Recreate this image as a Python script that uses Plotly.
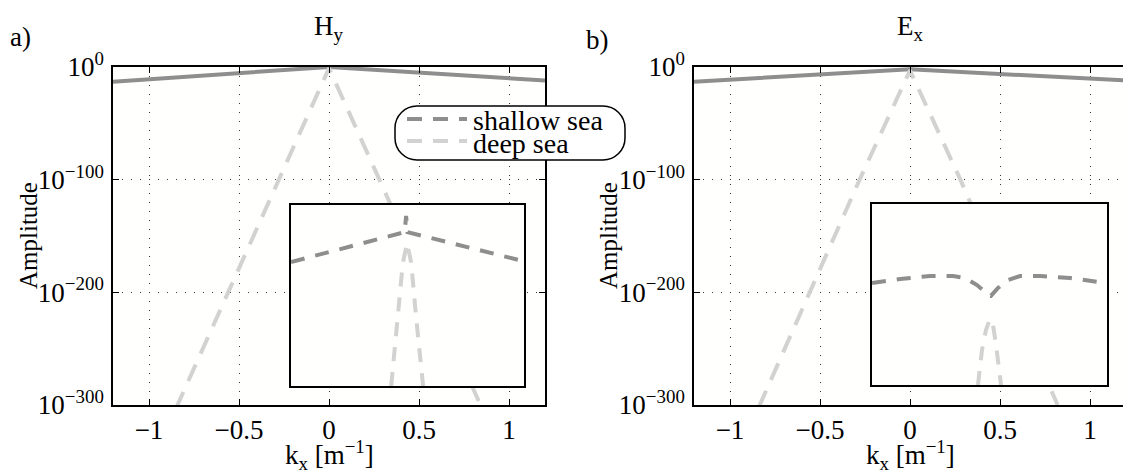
import plotly.graph_objects as go

W, H = 1123, 474
FONT = "Liberation Serif"

# ---------------- data ----------------
series_names = ["shallow sea", "deep sea"]
panel_titles = ["H<sub>y</sub>", "E<sub>x</sub>"]
panel_letters = ["a)", "b)"]

x_tickvals = [-1, -0.5, 0, 0.5, 1]
x_ticktext = ["\u22121", "\u22120.5", "0", "0.5", "1"]
y_tickvals = [1e-300, 1e-200, 1e-100, 1]
y_ticktext = ["10<sup>\u2212300</sup>", "10<sup>\u2212200</sup>", "10<sup>\u2212100</sup>", "10<sup>0</sup>"]

# main panels (kx in 1/m, amplitude)
kx_shallow_a = [-1.2, 0.0, 1.2]
amp_shallow_a = [1e-13, 1e0, 1e-12]
kx_deep_a = [-0.85, -0.28, 0.0, 0.28, 0.85]
amp_deep_a = [1e-303, 1e-100, 1e-1, 1e-100, 1e-303]

kx_shallow_b = [-1.2, 0.0, 1.2]
amp_shallow_b = [1e-13, 1e-2, 1e-12]
kx_deep_b = [-0.84, -0.28, 0.0, 0.28, 0.82]
amp_deep_b = [1e-302, 1e-100, 1e-3, 1e-100, 1e-300]

# insets (normalised zoom coordinates)
inset_a_x_shallow = [0.0, 0.488, 0.494, 0.500, 1.0]
inset_a_y_shallow = [0.685, 0.85, 0.94, 0.85, 0.689]
inset_a_x_deep = [0.43, 0.445, 0.459, 0.48, 0.498, 0.516, 0.537, 0.552, 0.567]
inset_a_y_deep = [0.0, 0.2, 0.38, 0.68, 0.79, 0.68, 0.38, 0.2, 0.0]

inset_b_x_shallow = [0.0, 0.12, 0.247, 0.345, 0.396, 0.447, 0.481, 0.494, 0.506,
                     0.519, 0.536, 0.579, 0.630, 0.715, 0.843, 1.0]
inset_b_y_shallow = [0.564, 0.586, 0.602, 0.602, 0.591, 0.552, 0.514, 0.492, 0.492,
                     0.514, 0.536, 0.580, 0.602, 0.602, 0.591, 0.562]
inset_b_x_deep = [0.451, 0.468, 0.485, 0.502, 0.515, 0.528, 0.549]
inset_b_y_deep = [0.0, 0.193, 0.304, 0.365, 0.331, 0.221, 0.0]

# ---------------- styling helpers ----------------
C_SHALLOW = "#8e8e8e"
C_DEEP = "#d2d2d2"
DASH_DEEP = "18px,12px"
DASH_SH = "14px,11px"
LW = 4
FS = 27


def PX(x):
    return x / W


def PY(y):
    return 1 - y / H


fig = go.Figure()

fig.add_trace(go.Scatter(x=kx_shallow_a, y=amp_shallow_a, mode="lines", name=series_names[0],
                         line=dict(color=C_SHALLOW, width=LW), showlegend=False, xaxis="x", yaxis="y"))
fig.add_trace(go.Scatter(x=kx_deep_a, y=amp_deep_a, mode="lines", name=series_names[1],
                         line=dict(color=C_DEEP, width=LW, dash=DASH_DEEP), showlegend=False,
                         xaxis="x", yaxis="y"))
fig.add_trace(go.Scatter(x=kx_shallow_b, y=amp_shallow_b, mode="lines", name=series_names[0],
                         line=dict(color=C_SHALLOW, width=LW), showlegend=False, xaxis="x2", yaxis="y2"))
fig.add_trace(go.Scatter(x=kx_deep_b, y=amp_deep_b, mode="lines", name=series_names[1],
                         line=dict(color=C_DEEP, width=LW, dash=DASH_DEEP), showlegend=False,
                         xaxis="x2", yaxis="y2"))
fig.add_trace(go.Scatter(x=inset_a_x_deep, y=inset_a_y_deep, mode="lines", name=series_names[1],
                         line=dict(color=C_DEEP, width=LW, dash=DASH_SH), showlegend=False,
                         xaxis="x3", yaxis="y3"))
fig.add_trace(go.Scatter(x=inset_a_x_shallow, y=inset_a_y_shallow, mode="lines", name=series_names[0],
                         line=dict(color=C_SHALLOW, width=LW, dash=DASH_SH), showlegend=False,
                         xaxis="x3", yaxis="y3"))
fig.add_trace(go.Scatter(x=inset_b_x_deep, y=inset_b_y_deep, mode="lines", name=series_names[1],
                         line=dict(color=C_DEEP, width=LW, dash=DASH_SH), showlegend=False,
                         xaxis="x4", yaxis="y4"))
fig.add_trace(go.Scatter(x=inset_b_x_shallow, y=inset_b_y_shallow, mode="lines", name=series_names[0],
                         line=dict(color=C_SHALLOW, width=LW, dash=DASH_SH), showlegend=False,
                         xaxis="x4", yaxis="y4"))

tickfont = dict(family=FONT, size=FS, color="black")
grid = dict(showgrid=True, gridcolor="#333333", gridwidth=1, griddash="1px,8px")
common_x = dict(range=[-1.2, 1.2], tickmode="array", tickvals=x_tickvals, ticktext=x_ticktext,
                ticks="inside", ticklen=6, tickwidth=1, tickcolor="black", showline=True,
                linecolor="black", linewidth=1.5, zeroline=False, tickfont=tickfont,
                fixedrange=True, **grid)
common_y = dict(type="log", range=[-300, 0], tickmode="array", tickvals=y_tickvals, ticktext=y_ticktext,
                ticks="inside", ticklen=6, tickwidth=1, tickcolor="black", showline=True,
                linecolor="black", linewidth=1.5, zeroline=False, tickfont=tickfont,
                fixedrange=True, ticklabelstandoff=2, **grid)
inset_ax = dict(range=[0, 1], showline=True, mirror=True, linecolor="black", linewidth=1.5,
                showgrid=False, zeroline=False, showticklabels=False, ticks="", fixedrange=True)

ydom = [PY(405), PY(67)]
fig.update_layout(
    width=W, height=H,
    margin=dict(l=0, r=0, t=0, b=0, autoexpand=False),
    paper_bgcolor="white", plot_bgcolor="#fffffe",
    showlegend=False,
    font=dict(family=FONT, size=FS, color="black"),
    xaxis=dict(domain=[PX(113), PX(545)], mirror="ticks", anchor="y", **common_x),
    yaxis=dict(domain=ydom, mirror="ticks", anchor="x", **common_y),
    xaxis2=dict(domain=[PX(694), 1.0], mirror="ticks", anchor="y2", **{**common_x, "range": [-1.2, (1123 - 910) / 180]}),
    yaxis2=dict(domain=ydom, mirror=False, anchor="x2", **common_y),
    xaxis3=dict(domain=[PX(291), PX(524)], anchor="y3", **inset_ax),
    yaxis3=dict(domain=[PY(386), PY(205)], anchor="x3", **inset_ax),
    xaxis4=dict(domain=[PX(872), PX(1107)], anchor="y4", **inset_ax),
    yaxis4=dict(domain=[PY(385), PY(204)], anchor="x4", **inset_ax),
)


def rounded_rect(x0, y0, x1, y1, r):
    k = 0.5523 * r
    pts = [
        f"M {PX(x0 + r)},{PY(y0)}",
        f"L {PX(x1 - r)},{PY(y0)}",
        f"C {PX(x1 - r + k)},{PY(y0)} {PX(x1)},{PY(y0 + r - k)} {PX(x1)},{PY(y0 + r)}",
        f"L {PX(x1)},{PY(y1 - r)}",
        f"C {PX(x1)},{PY(y1 - r + k)} {PX(x1 - r + k)},{PY(y1)} {PX(x1 - r)},{PY(y1)}",
        f"L {PX(x0 + r)},{PY(y1)}",
        f"C {PX(x0 + r - k)},{PY(y1)} {PX(x0)},{PY(y1 - r + k)} {PX(x0)},{PY(y1 - r)}",
        f"L {PX(x0)},{PY(y0 + r)}",
        f"C {PX(x0)},{PY(y0 + r - k)} {PX(x0 + r - k)},{PY(y0)} {PX(x0 + r)},{PY(y0)}",
        "Z",
    ]
    return " ".join(pts)


shapes = [
    dict(type="path", xref="paper", yref="paper", path=rounded_rect(395, 106, 625, 160, 22),
         line=dict(color="black", width=1.5), fillcolor="white", layer="above"),
    dict(type="line", xref="paper", yref="paper", x0=PX(407), x1=PX(467), y0=PY(119), y1=PY(119),
         line=dict(color=C_SHALLOW, width=LW, dash="15px,11px"), layer="above"),
    dict(type="line", xref="paper", yref="paper", x0=PX(407), x1=PX(467), y0=PY(141), y1=PY(141),
         line=dict(color=C_DEEP, width=LW, dash="15px,11px"), layer="above"),
]
fig.update_layout(shapes=shapes)

ann = []


def A(text, x, y, size=FS, angle=0, xanchor="center"):
    ann.append(dict(text=text, x=PX(x), y=PY(y), xref="paper", yref="paper", showarrow=False,
                    xanchor=xanchor, yanchor="middle", textangle=angle,
                    font=dict(family=FONT, size=size, color="black")))


A(panel_letters[0], 20, 37)
A(panel_letters[1], 597, 40)
A(panel_titles[0], 329, 28)
A(panel_titles[1], 910, 28)
A("Amplitude", 28, 236, size=25, angle=-90)
A("Amplitude", 608, 236, size=25, angle=-90)
A("k<sub>x</sub> [m<sup>\u22121</sup>]", 329, 455)
A("k<sub>x</sub> [m<sup>\u22121</sup>]", 910, 455)
A(series_names[0], 471, 120, size=28, xanchor="left")
A(series_names[1], 471, 143, size=28, xanchor="left")
fig.update_layout(annotations=ann)

fig.write_html("out.html")
